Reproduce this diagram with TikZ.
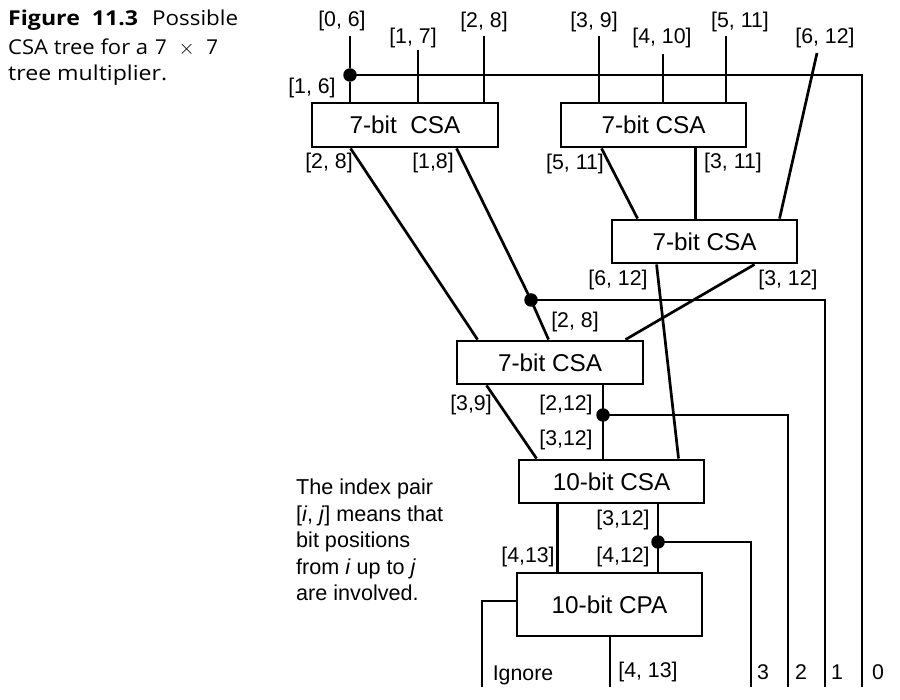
\documentclass[tikz,border=0pt]{standalone}
\usepackage{fontspec}
\usepackage{graphicx}
\setmainfont{Liberation Sans}
\newfontfamily\capfont{Open Sans}
\usetikzlibrary{calc}
\begin{document}
\begin{tikzpicture}[x=1pt,y=-1pt,
  wire/.style={line width=2.7pt},
  blk/.style={draw,line width=2.9pt,inner sep=0pt,minimum width=185pt,minimum height=43pt,font=\fontsize{24.3}{28}\selectfont},
  lbl/.style={inner sep=0pt,font=\fontsize{21.3}{25}\selectfont},
  capt/.style={anchor=west,inner sep=0pt,font=\capfont\fontsize{20.5}{27}\selectfont},
  jdot/.style={circle,fill=black,inner sep=0pt,minimum size=13.5pt}]
\useasboundingbox (0,0) rectangle (900,700);
% caption
\node[capt] (cap1) at (8,20) {\resizebox{130pt}{\height}{\textbf{Figure\ \ 11.3}}\hspace{14pt}\resizebox{86pt}{\height}{Possible}};
\node[capt] (cap2) at (8,48) {\resizebox{140pt}{\height}{CSA tree for a}\hspace{7pt}\makebox[63pt]{7\hfill$\times$\hfill7}};
\node[capt] (cap3) at (8,75) {\resizebox{159pt}{\height}{tree multiplier.}};
% boxes
\node[blk,minimum width=186pt,minimum height=44pt] (A) at (405,125) {7-bit\ \ CSA};
\node[blk,minimum height=44pt] (B) at (653.5,125) {7-bit CSA};
\node[blk] (C) at (704.5,241.5) {7-bit CSA};
\node[blk,minimum width=186pt] (D) at (550,362.5) {7-bit CSA};
\node[blk] (E) at (611.5,481.5) {10-bit CSA};
\node[blk,minimum height=63pt] (F) at (609.5,604.5) {10-bit CPA};
% junction dots
\node[jdot] (d0) at (350,75) {};
\node[jdot] (d1) at (531,300) {};
\node[jdot] (d2) at (603,415) {};
\node[jdot] (d3) at (658,542) {};
% free ends
\coordinate (i06) at (350,36);
\coordinate (i17) at (418,50);
\coordinate (i28) at (484,36);
\coordinate (i39) at (599,36);
\coordinate (i410) at (663,54);
\coordinate (i511) at (726,36);
\coordinate (i612) at (817,53);
\coordinate (o0) at (862,687);
\coordinate (o1) at (825,687);
\coordinate (o2) at (788,687);
\coordinate (o3) at (751,687);
\coordinate (oig) at (482,687);
\coordinate (osum) at (610,687);
% inputs
\draw[wire] (i06) -- (d0) -- (A.north west -| d0);
\draw[wire] (i17) -- (A.north west -| i17);
\draw[wire] (i28) -- (A.north west -| i28);
\draw[wire] (i39) -- (B.north west -| i39);
\draw[wire] (i410) -- (B.north west -| i410);
\draw[wire] (i511) -- (B.north west -| i511);
\draw[wire] (i612) -- ($(C.north west)+(169,0)$);
% A outputs
\draw[wire] ($(A.south west)+(40,0)$) -- ($(D.north west)+(22,0)$);
\draw[wire] ($(A.south west)+(146,0)$) -- (d1.center) -- ($(D.north west)+(93,0)$);
% B outputs
\draw[wire] ($(B.south west)+(42,0)$) -- ($(C.north west)+(27,0)$);
\draw[wire] ($(B.south west)+(136,0)$) -- ($(C.north west)+(85,0)$);
% C outputs
\draw[wire] ($(C.south west)+(46,0)$) -- ($(E.north west)+(161,0)$);
\draw[wire] ($(C.south west)+(144,0)$) -- ($(D.north west)+(170,0)$);
% D outputs
\draw[wire] ($(D.south west)+(31,0)$) -- ($(E.north west)+(19,0)$);
\draw[wire] (D.south west -| d2) -- (d2.center) -- (E.north west -| d2);
% E outputs
\draw[wire] ($(E.south west)+(40,0)$) -- ($(F.north west)+(42,0)$);
\draw[wire] (E.south west -| d3) -- (d3.center) -- (F.north west -| d3);
% F outputs
\draw[wire] ($(F.west)+(0,-3.5)$) -| (oig);
\draw[wire] (F.south west -| osum) -- (osum);
% side bits
\draw[wire] (d0.center) -| (o0);
\draw[wire] (d1.center) -| (o1);
\draw[wire] (d2.center) -| (o2);
\draw[wire] (d3.center) -| (o3);
% labels
\node[lbl] (l06) at (342,21) {[0, 6]};
\node[lbl] (l17) at (413,38) {[1, 7]};
\node[lbl] (l28) at (484,22) {[2, 8]};
\node[lbl] (l16) at (312,88) {[1, 6]};
\node[lbl] (l39) at (594,22) {[3, 9]};
\node[lbl] (l410) at (662,38) {[4, 10]};
\node[lbl] (l511) at (740,22) {[5, 11]};
\node[lbl] (l612) at (825,38) {[6, 12]};
\node[lbl] (lA1) at (329,163) {[2, 8]};
\node[lbl] (lA2) at (433,163) {[1,8]};
\node[lbl] (lB1) at (575,164) {[5, 11]};
\node[lbl] (lB2) at (733,163) {[3, 11]};
\node[lbl] (lC1) at (618,280) {[6, 12]};
\node[lbl] (lC2) at (788,280) {[3, 12]};
\node[lbl] (lD0) at (575,322) {[2, 8]};
\node[lbl] (lD1) at (471,405) {[3,9]};
\node[lbl] (lD2) at (566,405) {[2,12]};
\node[lbl] (lD3) at (566,440) {[3,12]};
\node[lbl] (lE1) at (623,520) {[3,12]};
\node[lbl] (lE2) at (528,557) {[4,13]};
\node[lbl] (lE3) at (623,557) {[4,12]};
\node[lbl] (lig) at (523,675) {Ignore};
\node[lbl] (lsum) at (648,672) {[4, 13]};
\node[lbl] (l3) at (763,672) {3};
\node[lbl] (l2) at (801,672) {2};
\node[lbl] (l1) at (837,672) {1};
\node[lbl] (l0) at (878,672) {0};
\node[anchor=west,inner sep=0pt,align=left,font=\fontsize{21.6}{26.5}\selectfont] (note) at (296,540)
  {The index pair\\ {[}\textit{i}, \textit{j}{]} means that\\ bit positions\\ from \textit{i} up to \textit{j}\\ are involved.};
\end{tikzpicture}
\end{document}
